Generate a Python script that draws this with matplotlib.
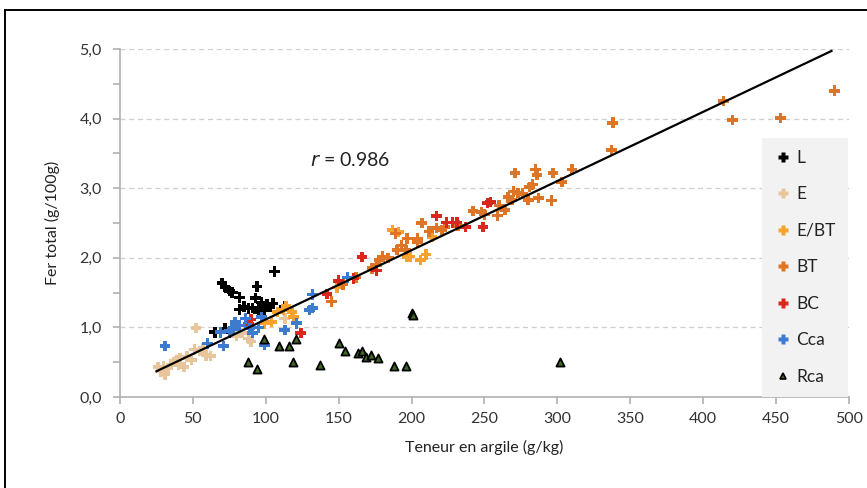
import matplotlib
matplotlib.use("Agg")
import matplotlib.pyplot as plt
from matplotlib.lines import Line2D
from matplotlib.ticker import MultipleLocator, FuncFormatter

# ---- data ----
L_x = [70, 72, 75, 77, 106, 94, 82, 93, 82, 97, 101, 105, 91, 95, 99, 113, 95, 72, 65, 75, 88, 103, 85]
L_y = [1.64, 1.58, 1.52, 1.50, 1.80, 1.59, 1.43, 1.42, 1.26, 1.36, 1.33, 1.34, 1.28, 1.27, 1.25, 1.30, 1.22,
       0.98, 0.93, 0.93, 1.27, 1.29, 1.30]

E_x = [26, 28, 31, 33, 35, 37, 39, 41, 44, 46, 49, 52, 51, 55, 57, 59, 62, 30, 40, 84, 88, 90, 113, 80]
E_y = [0.43, 0.37, 0.32, 0.41, 0.47, 0.50, 0.53, 0.56, 0.43, 0.58, 0.53, 0.99, 0.68, 0.66, 0.70, 0.60,
       0.59, 0.44, 0.46, 0.92, 0.84, 0.80, 1.13, 0.88]

EBT_x = [108, 114, 118, 99, 104, 112, 119, 187, 191, 199, 206, 210, 214, 197, 149]
EBT_y = [1.22, 1.31, 1.22, 1.06, 1.08, 1.25, 1.15, 2.40, 2.37, 2.02, 1.97, 2.05, 2.30, 2.01, 1.57]

BT_x = [145, 162, 153, 173, 176, 178, 180, 184, 189, 190, 193, 196, 197, 204, 204, 207, 217, 221, 223,
        242, 248, 250, 259, 264, 266, 269, 270, 271, 273, 280, 281, 283, 285, 286, 287, 296, 297, 303,
        310, 337, 338, 414, 420, 453, 490, 212, 232, 260, 276]
BT_y = [1.37, 1.72, 1.62, 1.85, 1.90, 1.97, 2.02, 2.00, 2.35, 2.11, 2.18, 2.11, 2.28, 2.23, 2.28, 2.50,
        2.43, 2.40, 2.44, 2.67, 2.66, 2.62, 2.61, 2.69, 2.87, 2.83, 2.95, 3.22, 2.93, 2.83, 3.02, 3.05,
        3.27, 3.19, 2.86, 2.82, 3.22, 3.09, 3.27, 3.55, 3.94, 4.25, 3.98, 4.01, 4.40, 2.38, 2.46, 2.75, 2.92]

BC_x = [90, 88, 124, 142, 150, 166, 176, 217, 224, 228, 231, 237, 249, 252, 254, 160]
BC_y = [1.11, 1.05, 0.92, 1.48, 1.67, 2.01, 1.82, 2.60, 2.51, 2.51, 2.51, 2.44, 2.44, 2.79, 2.80, 1.70]

Cca_x = [31, 60, 71, 69, 77, 79, 82, 86, 89, 91, 99, 97, 113, 121, 130, 132, 132, 156, 75, 95]
Cca_y = [0.73, 0.77, 0.73, 0.93, 0.98, 1.08, 1.03, 1.13, 0.99, 0.92, 0.75, 1.15, 0.96, 1.06, 1.25, 1.28,
         1.47, 1.72, 0.95, 1.00]

Rca_x = [99, 109, 116, 121, 88, 94, 119, 137, 150, 154, 163, 166, 169, 172, 177, 188, 196, 200, 201, 302]
Rca_y = [0.83, 0.73, 0.73, 0.83, 0.50, 0.40, 0.50, 0.46, 0.78, 0.66, 0.63, 0.66, 0.57, 0.60, 0.56, 0.45,
         0.45, 1.21, 1.18, 0.50]

fit_x = [25, 488]
fit_intercept = 0.121
fit_slope = 0.00994

series_names = ["L", "E", "E/BT", "BT", "BC", "Cca", "Rca"]
series_colors = ["#000000", "#e9c59c", "#f7a22e", "#de7526", "#d8281e", "#3d7bcf", "#3f6b25"]

plt.rcParams['font.family'] = ['Lato', 'DejaVu Sans']

fig = plt.figure(figsize=(8.67, 4.88), dpi=100)
ax = fig.add_axes([0.1384, 0.1865, 0.8408, 0.7131])

data = [(L_x, L_y), (E_x, E_y), (EBT_x, EBT_y), (BT_x, BT_y), (BC_x, BC_y), (Cca_x, Cca_y)]
for (xs, ys), name, col in zip(data, series_names[:6], series_colors[:6]):
    ax.scatter(xs, ys, marker='P', s=58, color=col, edgecolors='none', zorder=3, label=name)
ax.scatter(Rca_x, Rca_y, marker='^', s=34, facecolor=series_colors[6], edgecolors='black',
           linewidths=1.3, zorder=3, label="Rca")

fy = [fit_intercept + fit_slope * v for v in fit_x]
ax.plot(fit_x, fy, color='black', lw=1.6, zorder=4)

ax.set_xlim(0, 500)
ax.set_ylim(0, 5)
ax.xaxis.set_major_locator(MultipleLocator(50))
ax.yaxis.set_major_locator(MultipleLocator(1))
ax.yaxis.set_minor_locator(MultipleLocator(0.5))
ax.yaxis.set_major_formatter(FuncFormatter(lambda v, p: f"{v:.1f}".replace('.', ',')))

for s in ['top', 'right']:
    ax.spines[s].set_visible(False)
for s in ['left', 'bottom']:
    ax.spines[s].set_color('#b0b0b0')
    ax.spines[s].set_linewidth(1.2)
ax.tick_params(axis='both', which='both', color='#b0b0b0', width=1.2, length=5,
               labelsize=11.5, labelcolor='#333333')
ax.tick_params(axis='x', pad=6)
ax.tick_params(axis='y', pad=8)
ax.grid(axis='y', which='major', color='#cfcfcf', linestyle=(0, (4, 3)), lw=0.9)
ax.set_axisbelow(True)

ax.set_xlabel("Teneur en argile (g/kg)", fontsize=11.5, color='#222222', labelpad=10)
ax.set_ylabel("Fer total (g/100g)", fontsize=11.5, color='#222222', labelpad=14)

ax.text(130, 3.40, r"$\it{r}$ = 0.986", fontsize=14, va='center', ha='left', color='#222222')

handles = [Line2D([], [], marker='P', ls='none', markersize=6.5, color=c, markeredgecolor='none')
           for c in series_colors[:6]]
handles.append(Line2D([], [], marker='^', ls='none', markersize=5, markerfacecolor=series_colors[6],
                      markeredgecolor='black', markeredgewidth=1.2))
leg = ax.legend(handles, series_names, loc='lower right', bbox_to_anchor=(0.9986, 0.0),
                frameon=True, fancybox=False, facecolor='#f2f2f2', edgecolor='#f2f2f2',
                framealpha=1, fontsize=12.5, labelspacing=1.18, handletextpad=0.3,
                handlelength=1.0, borderpad=0.7, borderaxespad=0, ncols=1)
leg.get_frame().set_linewidth(0)
for t in leg.get_texts():
    t.set_color('#222222')
leg.set_zorder(5)

# outer frame lines (top and left)
fig.add_artist(Line2D([0.0058, 0.0058], [0, 0.980], transform=fig.transFigure, color='black', lw=1.4))
fig.add_artist(Line2D([0.0058, 1.0], [0.980, 0.980], transform=fig.transFigure, color='black', lw=1.4))

fig.savefig("out.png", dpi=100)
